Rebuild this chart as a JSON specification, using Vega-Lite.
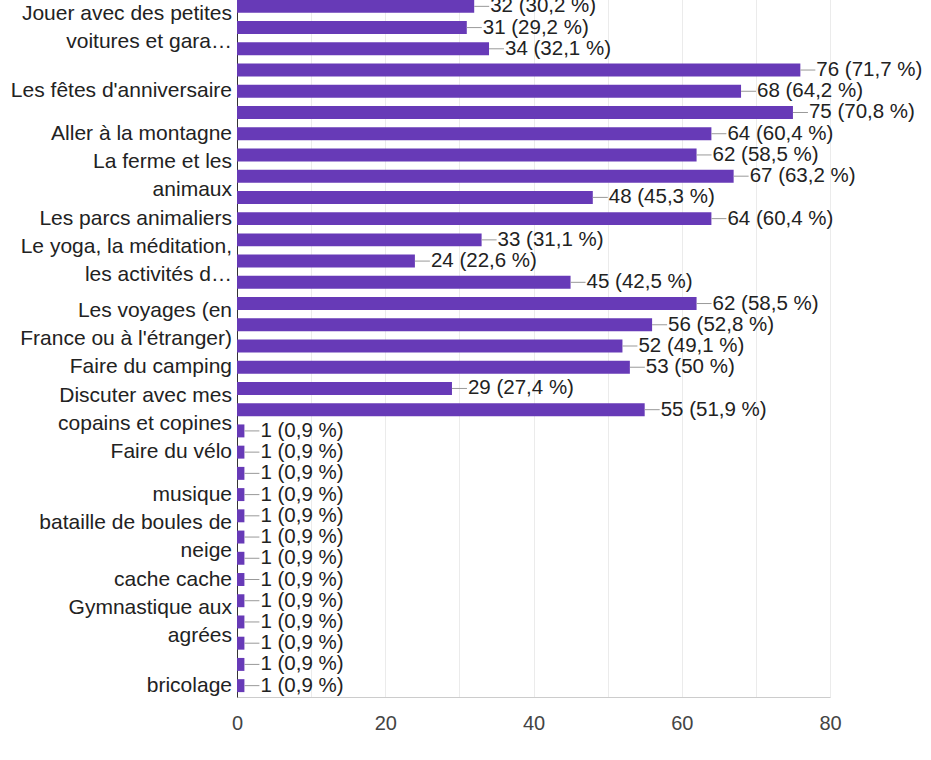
{
  "$schema": "https://vega.github.io/schema/vega-lite/v6.json",
  "width": 593,
  "height": 702,
  "autosize": {"type": "none"},
  "padding": {"left": 237, "top": -5, "right": 101, "bottom": 63},
  "config": {"view": {"stroke": null}, "font": "Liberation Sans"},
  "data": {
    "values": [
      {"rang": 1, "n": 32, "etiquette": "32 (30,2 %)", "libelle": []},
      {"rang": 2, "n": 31, "etiquette": "31 (29,2 %)", "libelle": ["Jouer avec des petites", "voitures et gara…"]},
      {"rang": 3, "n": 34, "etiquette": "34 (32,1 %)", "libelle": []},
      {"rang": 4, "n": 76, "etiquette": "76 (71,7 %)", "libelle": []},
      {"rang": 5, "n": 68, "etiquette": "68 (64,2 %)", "libelle": ["Les fêtes d'anniversaire"]},
      {"rang": 6, "n": 75, "etiquette": "75 (70,8 %)", "libelle": []},
      {"rang": 7, "n": 64, "etiquette": "64 (60,4 %)", "libelle": ["Aller à la montagne"]},
      {"rang": 8, "n": 62, "etiquette": "62 (58,5 %)", "libelle": []},
      {"rang": 9, "n": 67, "etiquette": "67 (63,2 %)", "libelle": ["La ferme et les", "animaux"]},
      {"rang": 10, "n": 48, "etiquette": "48 (45,3 %)", "libelle": []},
      {"rang": 11, "n": 64, "etiquette": "64 (60,4 %)", "libelle": ["Les parcs animaliers"]},
      {"rang": 12, "n": 33, "etiquette": "33 (31,1 %)", "libelle": []},
      {"rang": 13, "n": 24, "etiquette": "24 (22,6 %)", "libelle": ["Le yoga, la méditation,", "les activités d…"]},
      {"rang": 14, "n": 45, "etiquette": "45 (42,5 %)", "libelle": []},
      {"rang": 15, "n": 62, "etiquette": "62 (58,5 %)", "libelle": []},
      {"rang": 16, "n": 56, "etiquette": "56 (52,8 %)", "libelle": ["Les voyages (en", "France ou à l'étranger)"]},
      {"rang": 17, "n": 52, "etiquette": "52 (49,1 %)", "libelle": []},
      {"rang": 18, "n": 53, "etiquette": "53 (50 %)", "libelle": ["Faire du camping"]},
      {"rang": 19, "n": 29, "etiquette": "29 (27,4 %)", "libelle": []},
      {"rang": 20, "n": 55, "etiquette": "55 (51,9 %)", "libelle": ["Discuter avec mes", "copains et copines"]},
      {"rang": 21, "n": 1, "etiquette": "1 (0,9 %)", "libelle": []},
      {"rang": 22, "n": 1, "etiquette": "1 (0,9 %)", "libelle": ["Faire du vélo"]},
      {"rang": 23, "n": 1, "etiquette": "1 (0,9 %)", "libelle": []},
      {"rang": 24, "n": 1, "etiquette": "1 (0,9 %)", "libelle": ["musique"]},
      {"rang": 25, "n": 1, "etiquette": "1 (0,9 %)", "libelle": []},
      {"rang": 26, "n": 1, "etiquette": "1 (0,9 %)", "libelle": ["bataille de boules de", "neige"]},
      {"rang": 27, "n": 1, "etiquette": "1 (0,9 %)", "libelle": []},
      {"rang": 28, "n": 1, "etiquette": "1 (0,9 %)", "libelle": ["cache cache"]},
      {"rang": 29, "n": 1, "etiquette": "1 (0,9 %)", "libelle": []},
      {"rang": 30, "n": 1, "etiquette": "1 (0,9 %)", "libelle": ["Gymnastique aux", "agrées"]},
      {"rang": 31, "n": 1, "etiquette": "1 (0,9 %)", "libelle": []},
      {"rang": 32, "n": 1, "etiquette": "1 (0,9 %)", "libelle": []},
      {"rang": 33, "n": 1, "etiquette": "1 (0,9 %)", "libelle": ["bricolage"]}
    ]
  },
  "encoding": {
    "y": {
      "field": "rang",
      "type": "ordinal",
      "scale": {"paddingInner": 0.39, "paddingOuter": 0.23},
      "axis": {"labels": false, "ticks": false, "domain": true, "domainColor": "#333333", "domainWidth": 1, "grid": false, "title": null}
    }
  },
  "layer": [
    {
      "mark": {"type": "bar", "color": "#673ab7"},
      "encoding": {
        "x": {
          "field": "n",
          "type": "quantitative",
          "scale": {"domain": [0, 80], "nice": false},
          "axis": {
            "values": [0, 10, 20, 30, 40, 50, 60, 70, 80],
            "labelExpr": "datum.value % 20 == 0 ? datum.label : ''",
            "labelFlush": false,
            "grid": true,
            "gridColor": "#ebebeb",
            "domainColor": "#cccccc",
            "ticks": false,
            "tickSize": 0,
            "labelPadding": 16,
            "labelFontSize": 20,
            "labelColor": "#444444",
            "labelFont": "Liberation Sans",
            "title": null
          }
        }
      }
    },
    {
      "mark": {"type": "rule", "color": "#999999", "strokeWidth": 1, "x2Offset": 15},
      "encoding": {
        "x": {"field": "n", "type": "quantitative"},
        "x2": {"field": "n"}
      }
    },
    {
      "mark": {"type": "text", "align": "left", "baseline": "middle", "dx": 16, "fontSize": 20.5, "color": "#222222", "font": "Liberation Sans"},
      "encoding": {
        "x": {"field": "n", "type": "quantitative"},
        "text": {"field": "etiquette"}
      }
    },
    {
      "transform": [{"filter": "length(datum.libelle) == 1"}],
      "mark": {"type": "text", "align": "right", "baseline": "middle", "dx": -5, "fontSize": 21, "lineHeight": 28, "color": "#222222", "font": "Liberation Sans"},
      "encoding": {
        "x": {"datum": 0, "type": "quantitative"},
        "text": {"field": "libelle"}
      }
    },
    {
      "transform": [{"filter": "length(datum.libelle) == 2"}],
      "mark": {"type": "text", "align": "right", "baseline": "middle", "dx": -5, "dy": -14, "fontSize": 21, "lineHeight": 28, "color": "#222222", "font": "Liberation Sans"},
      "encoding": {
        "x": {"datum": 0, "type": "quantitative"},
        "text": {"field": "libelle"}
      }
    }
  ]
}
